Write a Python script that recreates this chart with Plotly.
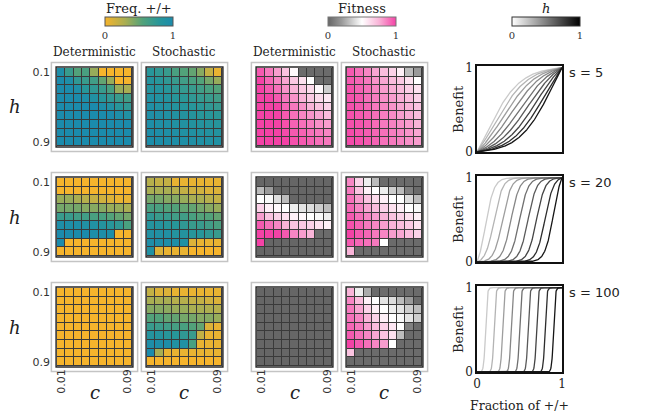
import numpy as np
import plotly.graph_objects as go

W, H = 649, 415

C_VALUES = [0.01, 0.02, 0.03, 0.04, 0.05, 0.06, 0.07, 0.08, 0.09]
H_VALUES = [0.1, 0.2, 0.3, 0.4, 0.5, 0.6, 0.7, 0.8, 0.9]
S_VALUES = [5, 20, 100]
C_TICKS = ["0.01", "0.09"]
H_TICKS = ["0.1", "0.9"]
COL_TITLES = ["Deterministic", "Stochastic", "Deterministic", "Stochastic"]

# Frequency of +/+ (rows: h 0.1..0.9, cols: c 0.01..0.09)
FREQ_DET_S5 = [
    [0.95, 0.7, 0.55, 0.6, 0.35, 0, 0, 0, 0],
    [1, 0.95, 0.75, 0.7, 0.65, 0.5, 0.35, 0, 0],
    [1, 1, 0.95, 0.8, 0.75, 0.7, 0.6, 0.35, 0.3],
    [1, 1, 1, 0.95, 0.9, 0.8, 0.75, 0.7, 0.65],
    [1, 1, 1, 1, 1, 0.95, 0.9, 0.8, 0.75],
    [1, 1, 1, 1, 1, 1, 1, 0.95, 0.9],
    [1, 1, 1, 1, 1, 1, 1, 1, 1],
    [1, 1, 1, 1, 1, 1, 1, 1, 1],
    [1, 1, 1, 1, 1, 1, 1, 1, 1],
]
FREQ_STO_S5 = [
    [0.8, 0.75, 0.7, 0.6, 0.55, 0.5, 0.4, 0.2, 0.05],
    [0.85, 0.8, 0.75, 0.7, 0.65, 0.6, 0.55, 0.45, 0.35],
    [0.85, 0.85, 0.8, 0.75, 0.72, 0.7, 0.65, 0.6, 0.55],
    [0.9, 0.88, 0.85, 0.8, 0.78, 0.75, 0.72, 0.7, 0.65],
    [0.92, 0.9, 0.88, 0.85, 0.82, 0.8, 0.78, 0.75, 0.72],
    [0.93, 0.92, 0.9, 0.88, 0.85, 0.83, 0.8, 0.8, 0.78],
    [0.95, 0.93, 0.92, 0.9, 0.88, 0.86, 0.85, 0.83, 0.82],
    [0.96, 0.95, 0.93, 0.92, 0.9, 0.9, 0.88, 0.87, 0.86],
    [0.97, 0.96, 0.95, 0.94, 0.93, 0.92, 0.91, 0.9, 0.9],
]
FREQ_DET_S20 = [
    [0, 0, 0, 0, 0, 0, 0, 0, 0],
    [0, 0, 0, 0, 0, 0, 0, 0, 0],
    [0.35, 0.35, 0.3, 0.25, 0.2, 0.15, 0.1, 0.05, 0.05],
    [0.45, 0.45, 0.45, 0.4, 0.4, 0.4, 0.35, 0.35, 0.3],
    [0.7, 0.7, 0.65, 0.65, 0.6, 0.6, 0.55, 0.5, 0.45],
    [0.95, 0.95, 0.95, 0.9, 0.9, 0.85, 0.8, 0.75, 0.6],
    [1, 1, 1, 1, 0.95, 0.95, 0.95, 0, 0],
    [1, 0, 0, 0, 0, 0, 0, 0, 0],
    [0, 0, 0, 0, 0, 0, 0, 0, 0],
]
FREQ_STO_S20 = [
    [0.25, 0.2, 0.2, 0.05, 0.05, 0.05, 0.05, 0.05, 0.05],
    [0.3, 0.3, 0.3, 0.25, 0.2, 0.15, 0.15, 0.1, 0.1],
    [0.45, 0.45, 0.4, 0.4, 0.35, 0.3, 0.3, 0.25, 0.2],
    [0.6, 0.6, 0.55, 0.55, 0.5, 0.5, 0.45, 0.4, 0.35],
    [0.75, 0.7, 0.7, 0.65, 0.65, 0.6, 0.55, 0.55, 0.5],
    [0.85, 0.85, 0.8, 0.8, 0.75, 0.7, 0.7, 0.65, 0.6],
    [0.9, 0.9, 0.9, 0.85, 0.85, 0.8, 0.8, 0.75, 0.7],
    [0.95, 0.95, 0.95, 0.95, 0.9, 0.1, 0.05, 0.05, 0.05],
    [0.9, 0.1, 0.05, 0.05, 0.05, 0, 0, 0, 0],
]
FREQ_DET_S100 = [[0] * 9 for _ in range(9)]
FREQ_STO_S100 = [
    [0.2, 0.1, 0.1, 0.05, 0.05, 0.05, 0.05, 0.05, 0.05],
    [0.3, 0.3, 0.3, 0.25, 0.25, 0.2, 0.2, 0.15, 0.1],
    [0.4, 0.4, 0.38, 0.35, 0.35, 0.3, 0.3, 0.28, 0.25],
    [0.55, 0.55, 0.5, 0.5, 0.45, 0.45, 0.4, 0.4, 0.35],
    [0.7, 0.68, 0.65, 0.62, 0.6, 0.55, 0.5, 0.1, 0.05],
    [0.85, 0.85, 0.8, 0.8, 0.75, 0.7, 0.2, 0.05, 0.05],
    [0.95, 0.95, 0.95, 0.9, 0.9, 0.6, 0.05, 0.05, 0.05],
    [1, 0.3, 0.05, 0.05, 0.05, 0.05, 0.05, 0.05, 0.05],
    [0, 0, 0, 0, 0, 0, 0, 0, 0],
]

# Fitness
FIT_DET_S5 = [
    [0.95, 0.88, 0.8, 0.7, 0.52, 0.02, 0.02, 0.02, 0.02],
    [1, 0.92, 0.85, 0.78, 0.68, 0.6, 0.5, 0.02, 0.02],
    [1, 0.95, 0.9, 0.82, 0.75, 0.68, 0.62, 0.52, 0.35],
    [1, 1, 0.95, 0.88, 0.82, 0.75, 0.68, 0.62, 0.58],
    [1, 1, 1, 0.92, 0.88, 0.82, 0.75, 0.7, 0.65],
    [1, 1, 1, 0.95, 0.9, 0.85, 0.82, 0.78, 0.72],
    [1, 1, 1, 0.97, 0.93, 0.9, 0.87, 0.83, 0.8],
    [1, 1, 1, 0.98, 0.95, 0.93, 0.9, 0.88, 0.85],
    [1, 1, 1, 1, 0.97, 0.95, 0.93, 0.9, 0.88],
]
FIT_STO_S5 = [
    [0.95, 0.9, 0.85, 0.78, 0.72, 0.65, 0.55, 0.3, 0.2],
    [0.95, 0.92, 0.88, 0.82, 0.78, 0.72, 0.68, 0.6, 0.5],
    [0.97, 0.93, 0.9, 0.85, 0.8, 0.76, 0.72, 0.66, 0.6],
    [0.97, 0.95, 0.9, 0.87, 0.83, 0.8, 0.76, 0.72, 0.65],
    [0.97, 0.95, 0.92, 0.88, 0.85, 0.82, 0.78, 0.75, 0.7],
    [0.97, 0.95, 0.93, 0.9, 0.87, 0.84, 0.8, 0.77, 0.72],
    [0.97, 0.96, 0.94, 0.91, 0.88, 0.86, 0.83, 0.8, 0.75],
    [0.98, 0.96, 0.94, 0.92, 0.9, 0.87, 0.85, 0.82, 0.78],
    [0.98, 0.97, 0.95, 0.93, 0.9, 0.88, 0.86, 0.83, 0.8],
]
FIT_DET_S20 = [
    [0, 0, 0, 0, 0, 0, 0, 0, 0],
    [0.3, 0.2, 0, 0, 0, 0, 0, 0, 0],
    [0.5, 0.48, 0.4, 0.3, 0, 0, 0, 0, 0],
    [0.65, 0.55, 0.52, 0.5, 0.45, 0.42, 0.4, 0.35, 0.3],
    [0.8, 0.7, 0.65, 0.6, 0.55, 0.52, 0.5, 0.48, 0.45],
    [0.95, 0.9, 0.85, 0.75, 0.7, 0.68, 0.65, 0.6, 0.55],
    [1, 1, 1, 0.95, 0.85, 0.8, 0.75, 0.02, 0.02],
    [1, 0, 0, 0, 0, 0, 0, 0, 0],
    [0, 0, 0, 0, 0, 0, 0, 0, 0],
]
FIT_STO_S20 = [
    [0.85, 0.65, 0.45, 0.3, 0.02, 0.02, 0.02, 0.02, 0.02],
    [0.88, 0.7, 0.55, 0.5, 0.45, 0.35, 0.3, 0.1, 0.02],
    [0.9, 0.8, 0.7, 0.62, 0.55, 0.5, 0.5, 0.4, 0.3],
    [0.92, 0.85, 0.78, 0.72, 0.65, 0.6, 0.55, 0.5, 0.48],
    [0.95, 0.9, 0.85, 0.8, 0.75, 0.7, 0.65, 0.6, 0.55],
    [0.97, 0.93, 0.88, 0.85, 0.8, 0.75, 0.72, 0.68, 0.6],
    [1, 0.95, 0.92, 0.88, 0.85, 0.8, 0.78, 0.72, 0.65],
    [0.95, 0.92, 0.9, 0.88, 0.5, 0.02, 0.02, 0.02, 0.02],
    [0.75, 0.02, 0.02, 0.02, 0.02, 0.02, 0.02, 0.02, 0.02],
]
FIT_DET_S100 = [[0] * 9 for _ in range(9)]
FIT_STO_S100 = [
    [0.75, 0.45, 0.25, 0.02, 0.02, 0.02, 0.02, 0.02, 0.02],
    [0.85, 0.72, 0.55, 0.5, 0.42, 0.4, 0.3, 0.2, 0.02],
    [0.88, 0.78, 0.65, 0.55, 0.5, 0.45, 0.42, 0.35, 0.3],
    [0.9, 0.85, 0.75, 0.65, 0.55, 0.5, 0.48, 0.42, 0.35],
    [0.92, 0.88, 0.8, 0.72, 0.65, 0.58, 0.5, 0.1, 0.02],
    [0.95, 0.9, 0.85, 0.78, 0.7, 0.6, 0.3, 0.02, 0.02],
    [1, 0.95, 0.9, 0.85, 0.8, 0.5, 0.02, 0.02, 0.02],
    [0.7, 0.02, 0.02, 0.02, 0.02, 0.02, 0.02, 0.02, 0.02],
    [0.02, 0.02, 0.02, 0.02, 0.02, 0.02, 0.02, 0.02, 0.02],
]

PANELS = [
    [FREQ_DET_S5, FREQ_STO_S5, FIT_DET_S5, FIT_STO_S5],
    [FREQ_DET_S20, FREQ_STO_S20, FIT_DET_S20, FIT_STO_S20],
    [FREQ_DET_S100, FREQ_STO_S100, FIT_DET_S100, FIT_STO_S100],
]

FREQ_CS = [[0, "#F6B42C"], [0.3, "#A9AE52"], [0.55, "#52A27A"], [0.8, "#27969A"], [1, "#1B8BAC"]]
FIT_CS = [[0, "#666666"], [0.2, "#9a9a9a"], [0.5, "#ffffff"], [0.75, "#f9b4d8"], [1, "#f442a6"]]
H_CS = [[0, "#ffffff"], [1, "#000000"]]

SERIF = "DejaVu Serif"
SANS = "DejaVu Sans"

# pixel geometry
HM_X = [(57, 132), (147, 222), (257, 332), (347, 422)]
ROW_Y = [(68, 146), (178, 256), (288, 366)]
LINE_X = (477, 562)
LINE_Y = [(66, 152), (176, 262), (286, 372)]


def xd(a, b):
    return [a / W, b / W]


def yd(a, b):
    return [1 - b / H, 1 - a / H]


def cbar(cx, outline):
    return dict(orientation="h", x=cx / W, xanchor="center", y=1 - 17 / H, yanchor="top",
                len=68 / W, lenmode="fraction", thickness=9, outlinecolor=outline, outlinewidth=1,
                tickvals=[0, 1], ticktext=["0", "1"], ticks="", xpad=0, ypad=0,
                tickfont=dict(family=SERIF, size=10, color="#333"))


def note(text, px, py, size, family=SERIF, xanchor="center", angle=0):
    return dict(text=text, xref="paper", yref="paper", x=px / W, y=1 - py / H,
                xanchor=xanchor, yanchor="middle", textangle=angle, showarrow=False,
                font=dict(family=family, size=size, color="#222"))


fig = go.Figure()
layout = {}
shapes = []
annotations = []

x_dense = np.linspace(0, 1, 301)

for r in range(3):
    for j in range(5):
        k = r * 5 + j + 1
        xa = "x" if k == 1 else f"x{k}"
        ya = "y" if k == 1 else f"y{k}"
        xkey = "xaxis" if k == 1 else f"xaxis{k}"
        ykey = "yaxis" if k == 1 else f"yaxis{k}"
        if j < 4:
            z = PANELS[r][j]
            is_freq = j < 2
            tr = go.Heatmap(
                z=z, x=C_VALUES, y=H_VALUES,
                colorscale=FREQ_CS if is_freq else FIT_CS,
                zmin=0, zmax=1, xgap=1, ygap=1,
                showscale=False, xaxis=xa, yaxis=ya, hoverinfo="skip",
            )
            if r == 0 and j == 0:
                tr.update(showscale=True, colorbar=cbar(139, "#555"))
            if r == 0 and j == 2:
                tr.update(showscale=True, colorbar=cbar(362, "#777"))
            fig.add_trace(tr)
            x0, x1 = HM_X[j]
            y0, y1 = ROW_Y[r]
            layout[xkey] = dict(domain=xd(x0, x1), range=[0.005, 0.095], automargin=False,
                                showgrid=False, zeroline=False, ticks="",
                                tickvals=[0.01, 0.09] if r == 2 else [],
                                ticktext=C_TICKS if r == 2 else [],
                                tickangle=-90, tickfont=dict(family=SANS, size=11, color="#333"),
                                showline=False, anchor=ya)
            layout[ykey] = dict(domain=yd(y0, y1), range=[0.95, 0.05], automargin=False,
                                showgrid=False, zeroline=False, ticks="",
                                tickvals=[0.1, 0.9] if j == 0 else [],
                                ticktext=H_TICKS if j == 0 else [],
                                tickfont=dict(family=SANS, size=11, color="#333"),
                                showline=False, anchor=xa, ticklabelstandoff=6)
            shapes.append(dict(type="rect", xref=f"{xa} domain", yref=f"{ya} domain",
                               x0=-0.075, x1=1.075, y0=-0.07, y1=1.07,
                               line=dict(color="#c4c4c4", width=1.5), layer="below",
                               fillcolor="rgba(0,0,0,0)"))
            shapes.append(dict(type="rect", xref=f"{xa} domain", yref=f"{ya} domain",
                               x0=-0.012, x1=1.012, y0=-0.012, y1=1.012,
                               line=dict(color="#2a2a2a", width=1.5), layer="above",
                               fillcolor="rgba(0,0,0,0)"))
            if r == 2:
                annotations.append(note("<i>c</i>", (x0 + x1) / 2, 392, 18))
            if r == 0:
                annotations.append(note(COL_TITLES[j], (x0 + x1) / 2, 52, 12))
            if j == 0:
                annotations.append(note("<i>h</i>", 15, (y0 + y1) / 2, 18))
        else:
            s = S_VALUES[r]
            shapes.append(dict(type="rect", xref=f"{xa} domain", yref=f"{ya} domain",
                               x0=0, x1=1, y0=0, y1=1, line=dict(width=0),
                               fillcolor="white", layer="below"))
            for hv in H_VALUES:
                L = 1 / (1 + np.exp(-s * (x_dense - hv)))
                L0 = 1 / (1 + np.exp(-s * (0 - hv)))
                L1 = 1 / (1 + np.exp(-s * (1 - hv)))
                yv = (L - L0) / (L1 - L0)
                g = int(round(225 * (1 - hv)))
                fig.add_trace(go.Scatter(x=x_dense, y=yv, mode="lines",
                                         line=dict(color=f"rgb({g},{g},{g})", width=1.3),
                                         xaxis=xa, yaxis=ya, showlegend=False, hoverinfo="skip"))
            if r == 0:
                fig.add_trace(go.Scatter(x=[None], y=[None], mode="markers", xaxis=xa, yaxis=ya,
                                         showlegend=False, hoverinfo="skip",
                                         marker=dict(color=[0], cmin=0, cmax=1, colorscale=H_CS,
                                                     showscale=True, colorbar=cbar(546, "#333"))))
            layout[xkey] = dict(domain=xd(*LINE_X), range=[0, 1], showgrid=False, zeroline=False,
                                automargin=False,
                                showline=True, mirror=True, linecolor="#111", linewidth=1.5, ticks="",
                                tickvals=[0, 1] if r == 2 else [], ticktext=["0", "1"] if r == 2 else [],
                                tickfont=dict(family=SERIF, size=12, color="#222"), anchor=ya)
            layout[ykey] = dict(domain=yd(*LINE_Y[r]), range=[0, 1.02], showgrid=False, zeroline=False,
                                automargin=False,
                                showline=True, mirror=True, linecolor="#111", linewidth=1.5, ticks="",
                                tickvals=[0, 1], ticktext=["0", "1"],
                                tickfont=dict(family=SERIF, size=12, color="#222"), anchor=xa)
            annotations.append(note("Benefit", 458, (LINE_Y[r][0] + LINE_Y[r][1]) / 2, 13, angle=-90))
            annotations.append(note(f"s = {s}", 567, 72 + r * 110, 13, family=SANS, xanchor="left"))

annotations.append(note("Fraction of +/+", (LINE_X[0] + LINE_X[1]) / 2, 405, 12.5))
for txt, cx in [("Freq. +/+", 139), ("Fitness", 362), ("<i>h</i>", 546)]:
    annotations.append(note(txt, cx, 8, 13))

fig.update_layout(width=W, height=H, margin=dict(l=0, r=0, t=0, b=0, autoexpand=False),
                  paper_bgcolor="white", plot_bgcolor="#3a3a3a",
                  shapes=shapes, annotations=annotations, showlegend=False, **layout)

fig.write_html("out.html", config={"displayModeBar": False},
               post_script="document.body.style.margin='0';document.body.style.padding='0';")
